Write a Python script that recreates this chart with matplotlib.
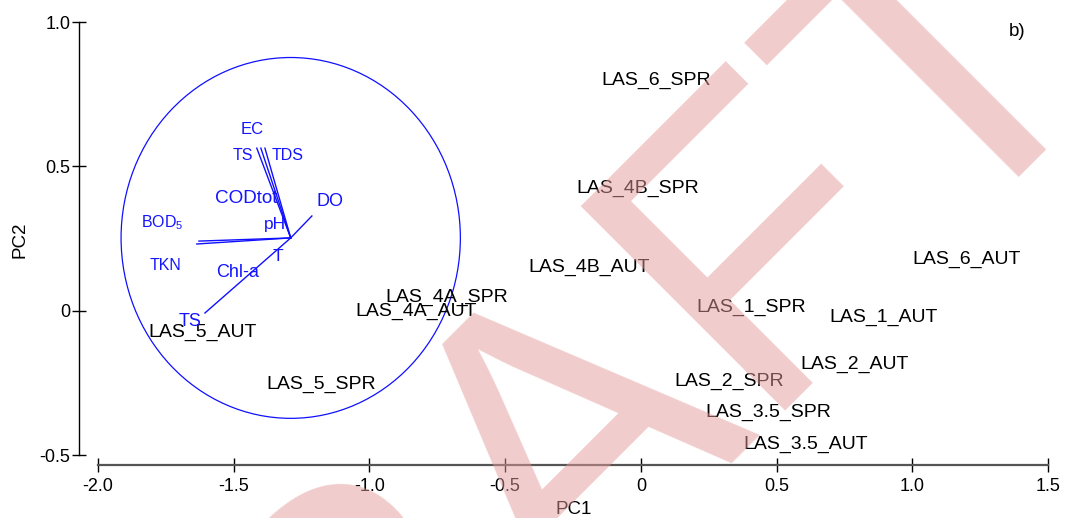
import matplotlib
matplotlib.use('Agg')
import matplotlib.pyplot as plt
from matplotlib.patches import Circle

plt.rcParams['font.family'] = ['Liberation Sans', 'DejaVu Sans']
plt.rcParams['mathtext.default'] = 'regular'

# sample scores (label anchor: left edge, vertical centre)
samples = ['LAS_6_SPR', 'LAS_4B_SPR', 'LAS_4B_AUT', 'LAS_6_AUT', 'LAS_4A_SPR',
           'LAS_4A_AUT', 'LAS_1_SPR', 'LAS_1_AUT', 'LAS_5_AUT', 'LAS_2_AUT',
           'LAS_2_SPR', 'LAS_5_SPR', 'LAS_3.5_SPR', 'LAS_3.5_AUT']
pc1 = [-0.147, -0.236, -0.416, 0.999, -0.940, -1.050, 0.206, 0.696, -1.813,
       0.586, 0.125, -1.378, 0.236, 0.376]
pc2 = [0.796, 0.422, 0.151, 0.176, 0.047, -0.001, 0.013, -0.022, -0.077,
       -0.185, -0.244, -0.257, -0.354, -0.465]

# correlation circle and loading vectors
origin = (-1.290, 0.252)
radius = 0.625
vec_x = [-1.415, -1.400, -1.385, -1.636, -1.628, -1.212, -1.606]
vec_y = [0.563, 0.563, 0.563, 0.231, 0.241, 0.328, -0.008]

# variable labels (centre positions)
var_names = ['EC', 'TS', 'TDS', 'CODtot', 'pH', 'DO', 'BOD$_{5}$', 'TKN', 'Chl-a', 'T', 'TS']
var_x = [-1.433, -1.466, -1.301, -1.455, -1.349, -1.146, -1.765, -1.750, -1.485, -1.338, -1.662]
var_y = [0.626, 0.536, 0.536, 0.387, 0.297, 0.377, 0.304, 0.155, 0.131, 0.186, -0.039]
var_size = [12, 11.5, 11.5, 13.6, 12.5, 13, 11.5, 11.5, 13, 12.5, 13]

xticks = [-2.0, -1.5, -1.0, -0.5, 0, 0.5, 1.0, 1.5]
xticklabels = ['-2.0', '-1.5', '-1.0', '-0.5', '0', '0.5', '1.0', '1.5']
yticks = [-0.5, 0, 0.5, 1.0]
yticklabels = ['-0.5', '0', '0.5', '1.0']

fig = plt.figure(figsize=(10.65, 5.18), dpi=100)
ax = fig.add_axes([98 / 1065, 63 / 518, 950 / 1065, 433 / 518])
ax.set_xlim(-2.0, 1.5)
ax.set_ylim(-0.5, 1.0)

for s, x, y in zip(samples, pc1, pc2):
    ax.text(x, y, s, fontsize=14, color='black', ha='left', va='center')

ax.add_patch(Circle(origin, radius, fill=False, edgecolor='#1010ff', lw=0.9))
for x, y in zip(vec_x, vec_y):
    ax.plot([origin[0], x], [origin[1], y], color='#1010ff', lw=1.0)
for n, x, y, fs in zip(var_names, var_x, var_y, var_size):
    ax.text(x, y, n, fontsize=fs, color='#1414ff', ha='center', va='center')

ax.text(0.967, 0.977, 'b)', transform=ax.transAxes, fontsize=13.5, ha='center', va='center')

# axes styling: offset spines with crossing ticks
for side in ['top', 'right']:
    ax.spines[side].set_visible(False)
ax.spines['left'].set_position(('outward', 13.7))
ax.spines['bottom'].set_position(('outward', 7.2))
ax.spines['left'].set_bounds(-0.5, 1.0)
ax.spines['bottom'].set_bounds(-2.0, 1.5)
ax.spines['left'].set_linewidth(1.0)
ax.spines['bottom'].set_color('#555555')
ax.spines['bottom'].set_linewidth(1.6)
ax.set_xticks(xticks)
ax.set_xticklabels(xticklabels)
ax.set_yticks(yticks)
ax.set_yticklabels(yticklabels)
ax.tick_params(axis='both', direction='inout', length=10.5, width=1.0, labelsize=13)
ax.tick_params(axis='x', pad=4)
ax.tick_params(axis='y', pad=1)
ax.set_xlabel('PC1', fontsize=13.5)
ax.set_ylabel('PC2', fontsize=13.5)
ax.xaxis.set_label_coords(0.501, -0.106)
ax.yaxis.set_label_coords(-0.073, 0.497)

# draft watermark
fig.text(620 / 1065, 1 - 542 / 518, 'DRAFT', fontsize=302, rotation=45,
         rotation_mode='anchor', ha='center', va='baseline',
         color=(0.89, 0.6, 0.6), alpha=0.5, zorder=10)

fig.savefig('out.png', dpi=100)
